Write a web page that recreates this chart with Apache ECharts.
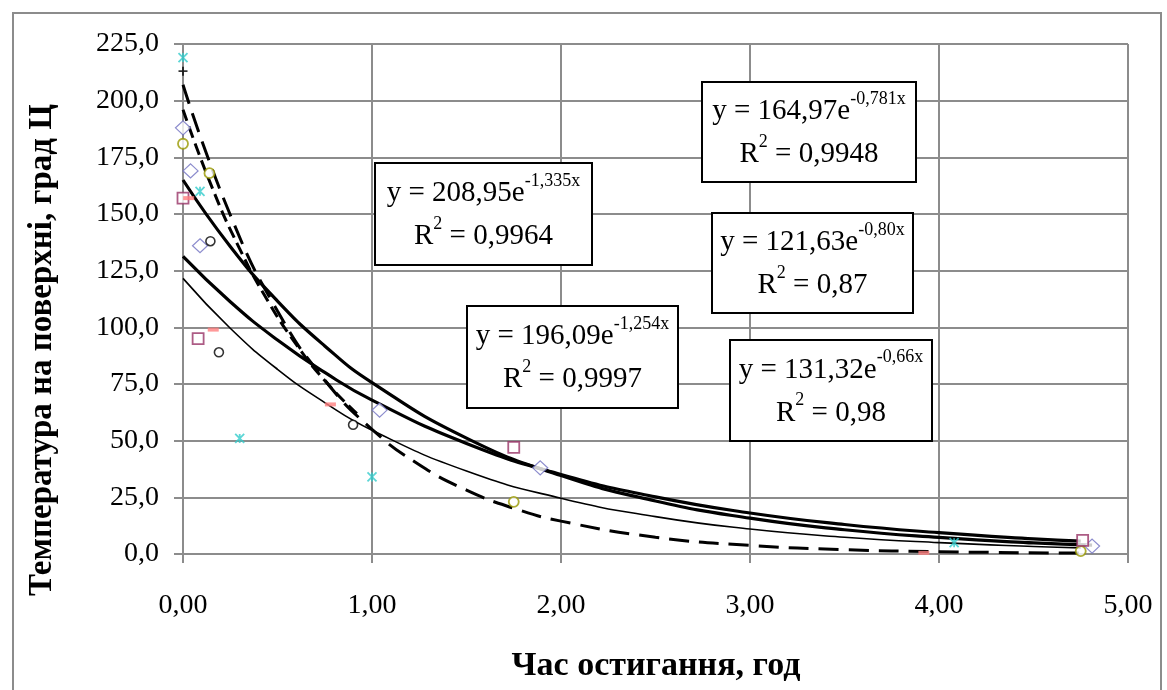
<!DOCTYPE html>
<html>
<head>
<meta charset="utf-8">
<script src="https://cdn.jsdelivr.net/npm/echarts@6/dist/echarts.min.js"></script>
<style>
html,body{margin:0;padding:0;background:#fff;}
#chart{width:1167px;height:690px;}
</style>
</head>
<body>
<div id="chart"></div>
<script>
// ---- tick labels / axis ranges ----
const xTicks = [0, 1, 2, 3, 4, 5];
const yTicks = [0, 25, 50, 75, 100, 125, 150, 175, 200, 225];

// ---- measured points (hours, degC) ----
const cyanX = [0.0, 0.09, 0.30, 1.00, 4.08];
const cyanY = [219, 160, 51, 34, 5];
const plusX = [0.0];
const plusY = [213];
const diamondX = [0.0, 0.04, 0.09, 1.04, 1.89, 4.81];
const diamondY = [188, 169, 136, 63.5, 38, 3.5];
const oliveX = [0.0, 0.14, 1.75, 4.75];
const oliveY = [181, 168, 23, 1.3];
const squareX = [0.0, 0.08, 1.75, 4.76];
const squareY = [157, 95, 47, 6];
const salmonX = [0.03, 0.16, 0.78, 3.92];
const salmonY = [157, 99, 66, 0.5];
const circleX = [0.145, 0.19, 0.90];
const circleY = [138, 89, 57];

// ---- trend lines ----
const trendAX = [0, 0.25, 0.5, 0.75, 1.0, 1.25, 1.5, 1.75, 2.0, 2.5, 3.0, 3.5, 4.0, 4.75];
const trendAY = [207, 149.6, 107.2, 76.8, 55.0, 39.4, 28.2, 20.2, 14.5, 7.4, 3.8, 1.95, 1.0, 0.4];
const trendBX = [0, 0.15, 0.3, 0.45, 0.6, 0.75, 0.92];
const trendBY = [196, 162.5, 134.6, 111.5, 92.4, 76.5, 61.9];
const trendCX = [0, 0.25, 0.5, 0.75, 1.0, 1.5, 2.0, 2.5, 3.0, 3.5, 4.0, 4.5, 4.81];
const trendCY = [165, 135.7, 111.6, 91.8, 75.6, 51.1, 34.6, 23.4, 15.8, 10.7, 7.3, 4.9, 3.9];
const trendDX = [0, 0.25, 0.5, 0.75, 1.0, 1.5, 2.0, 2.5, 3.0, 3.5, 4.0, 4.5, 4.75];
const trendDY = [121.6, 99.6, 81.5, 66.8, 54.6, 36.6, 24.6, 16.5, 11.0, 7.4, 5.0, 3.3, 2.7];
const trendEX = [0, 0.25, 0.5, 0.75, 1.0, 1.5, 2.0, 2.5, 3.0, 3.5, 4.0, 4.5, 4.75];
const trendEY = [131.3, 111.3, 94.4, 80.1, 67.9, 48.8, 35.1, 25.2, 18.1, 13.0, 9.4, 6.7, 5.7];

// ---- equation labels ----
const eqCoef = ['208,95', '164,97', '121,63', '196,09', '131,32'];
const eqExp = ['-1,335x', '-0,781x', '-0,80x', '-1,254x', '-0,66x'];
const eqR2 = ['0,9964', '0,9948', '0,87', '0,9997', '0,98'];

const xTitle = 'Час остигання, год';
const yTitle = 'Температура на поверхні, град Ц';

const pairs = (xs, ys) => xs.map((x, i) => [x, ys[i]]);

const serif = 'Liberation Serif, Times New Roman, serif';
const gridColor = '#8c8c8c';

function trend(name, xs, ys, width, type) {
  return {
    name, type: 'line', data: pairs(xs, ys), symbol: 'none', smooth: 0.5,
    silent: true, z: 3,
    lineStyle: { color: '#000', width: width, type: type }
  };
}
function scatter(name, xs, ys, symbol, size, fill, stroke, bw) {
  return {
    name, type: 'scatter', data: pairs(xs, ys), symbol, symbolSize: size, z: 5,
    itemStyle: { color: fill, borderColor: stroke, borderWidth: bw }
  };
}

const chart = echarts.init(document.getElementById('chart'), null, { renderer: 'canvas' });

// box geometry for equation labels (pixel annotations)
const boxes = [
  { x: 375, y: 163, w: 217, h: 102 },
  { x: 702, y: 82, w: 214, h: 100 },
  { x: 712, y: 213, w: 201, h: 100 },
  { x: 467, y: 306, w: 211, h: 102 },
  { x: 730, y: 340, w: 202, h: 101 }
];

const richStyles = {
  a: { fontFamily: serif, fontSize: 29, lineHeight: 43, color: '#000' },
  s: { fontFamily: serif, fontSize: 18, lineHeight: 43, verticalAlign: 'top', color: '#000' }
};

const graphics = [
  { type: 'rect', z: 0, silent: true, shape: { x: 13, y: 13, width: 1148, height: 700 },
    style: { fill: 'none', stroke: gridColor, lineWidth: 2 } },
  { type: 'text', z: 50, x: 42, y: 350, rotation: Math.PI / 2,
    style: { text: yTitle, font: 'bold 33px ' + serif, fill: '#000', align: 'center', verticalAlign: 'middle' } },
  { type: 'text', z: 50, x: 656, y: 666,
    style: { text: xTitle, font: 'bold 34px ' + serif, fill: '#000', align: 'center', verticalAlign: 'middle' } }
];
boxes.forEach((b, i) => {
  graphics.push({ type: 'rect', z: 60, shape: { x: b.x, y: b.y, width: b.w, height: b.h },
    style: { fill: '#fff', stroke: '#000', lineWidth: 2 } });
  graphics.push({ type: 'text', z: 61, x: b.x + b.w / 2, y: b.y + b.h / 2 + 1,
    style: {
      text: '{a|y = ' + eqCoef[i] + 'e}{s|' + eqExp[i] + '}\n{a|R}{s|2}{a| = ' + eqR2[i] + '}',
      rich: richStyles, align: 'center', verticalAlign: 'middle'
    } });
});

const option = {
  backgroundColor: '#fff',
  animation: false,
  grid: { left: 183, top: 44, width: 945, height: 510, containLabel: false },
  xAxis: {
    type: 'value', min: xTicks[0], max: xTicks[xTicks.length - 1], interval: 1,
    axisLine: { show: true, onZero: false, lineStyle: { color: gridColor, width: 2 } },
    axisTick: { show: true, length: 9, lineStyle: { color: gridColor, width: 2 } },
    splitLine: { show: true, lineStyle: { color: gridColor, width: 2 } },
    axisLabel: { margin: 38, color: '#000', fontFamily: serif, fontSize: 28,
      formatter: v => v.toFixed(2).replace('.', ',') }
  },
  yAxis: {
    type: 'value', min: yTicks[0], max: yTicks[yTicks.length - 1], interval: 25,
    axisLine: { show: true, lineStyle: { color: gridColor, width: 2 } },
    axisTick: { show: true, length: 9, lineStyle: { color: gridColor, width: 2 } },
    splitLine: { show: true, lineStyle: { color: gridColor, width: 2 } },
    axisLabel: { margin: 24, color: '#000', fontFamily: serif, fontSize: 28,
      formatter: v => v.toFixed(1).replace('.', ',') }
  },
  graphic: graphics,
  series: [
    trend('A', trendAX, trendAY, 3, [20, 10]),
    trend('B', trendBX, trendBY, 3, [12, 6]),
    trend('C', trendCX, trendCY, 3.2, 'solid'),
    trend('D', trendDX, trendDY, 1.6, 'solid'),
    trend('E', trendEX, trendEY, 3.2, 'solid'),
    scatter('cyan', cyanX, cyanY, 'path://M0,0L10,10M10,0L0,10M5,0L5,10', 9, 'none', '#33cccc', 1.8),
    scatter('plus', plusX, plusY, 'path://M5,0L5,10M0,5L10,5', 9, 'none', '#000', 1.8),
    scatter('diamond', diamondX, diamondY, 'diamond', [15, 14], '#fff', '#6f6fc0', 1.2),
    scatter('olive', oliveX, oliveY, 'circle', 10, '#fff', '#999900', 1.8),
    scatter('square', squareX, squareY, 'rect', 11, '#fff', '#993366', 1.8),
    scatter('salmon', salmonX, salmonY, 'rect', [11, 4], '#ff8080', '#ff8080', 0),
    scatter('circle', circleX, circleY, 'circle', 9, '#fff', '#000', 1.6)
  ]
};
chart.setOption(option);
</script>
</body>
</html>
